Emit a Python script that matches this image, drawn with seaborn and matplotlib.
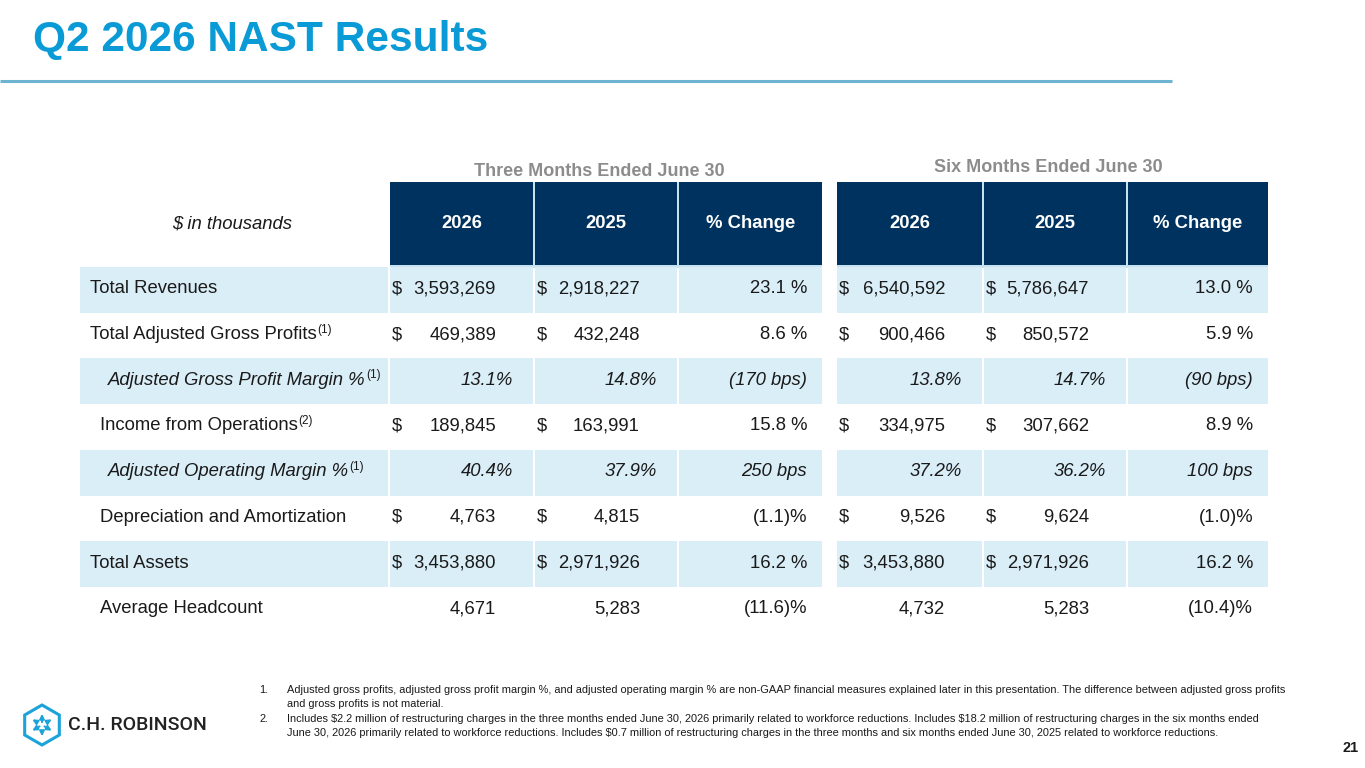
import numpy as np
import seaborn as sns
import matplotlib.pyplot as plt
from matplotlib.patches import RegularPolygon

# Table content
row_labels = ["Total Revenues", "Total Adjusted Gross Profits", "Adjusted Gross Profit Margin %",
              "Income from Operations", "Adjusted Operating Margin %", "Depreciation and Amortization",
              "Total Assets", "Average Headcount"]
row_notes = ["", "(1)", "(1)", "(2)", "(1)", "", "", ""]
row_indent = [0, 0, 2, 1, 2, 1, 0, 1]
row_italic = [False, False, True, False, True, False, False, False]
row_dollar = [True, True, False, True, False, True, True, False]

years = ["2026", "2025", "% Change"]
three_2026 = ["3,593,269", "469,389", "13.1%", "189,845", "40.4%", "4,763", "3,453,880", "4,671"]
three_2025 = ["2,918,227", "432,248", "14.8%", "163,991", "37.9%", "4,815", "2,971,926", "5,283"]
three_chg = ["23.1 %", "8.6 %", "(170 bps)", "15.8 %", "250 bps", "(1.1)%", "16.2 %", "(11.6)%"]
six_2026 = ["6,540,592", "900,466", "13.8%", "334,975", "37.2%", "9,526", "3,453,880", "4,732"]
six_2025 = ["5,786,647", "850,572", "14.7%", "307,662", "36.2%", "9,624", "2,971,926", "5,283"]
six_chg = ["13.0 %", "5.9 %", "(90 bps)", "8.9 %", "100 bps", "(1.0)%", "16.2 %", "(10.4)%"]

footnotes = [
    ("1.", "Adjusted gross profits, adjusted gross profit margin %, and adjusted operating margin % are non-GAAP "
           "financial measures explained later in this presentation. The difference between adjusted gross profits\n"
           "and gross profits is not material."),
    ("2.", "Includes $2.2 million of restructuring charges in the three months ended June 30, 2026 primarily related "
           "to workforce reductions. Includes $18.2 million of restructuring charges in the six months ended\n"
           "June 30, 2026 primarily related to workforce reductions. Includes $0.7 million of restructuring charges "
           "in the three months and six months ended June 30, 2025 related to workforce reductions."),
]

NAVY = "#00325F"
LIGHT = "#DAEEF8"
SEP = "#C6E2F2"
TXT = "#1A1A1A"
TITLE = "#0A9BD7"
LOGO = "#1BA3DA"

sns.set_theme(style="white")
plt.rcParams['font.family'] = ['Liberation Sans', 'DejaVu Sans']
plt.rcParams['text.parse_math'] = False

fig = plt.figure(figsize=(13.65, 7.68), dpi=100)
ax = fig.add_axes([0, 0, 1, 1])
ax.set_xlim(0, 1365)
ax.set_ylim(768, 0)
ax.axis('off')

# title and rule
ax.text(33, 40, "Q2 2026 NAST Results", fontsize=30.5, fontweight='bold', color=TITLE, va='center', ha='left')
ax.plot([0, 1172], [81, 81], color="#6CB4D0", lw=2.2, solid_capstyle='butt')

# column layout
label_col = (80, 388)
col_edges = [(390, 533), (535, 677), (679, 822), (837, 982), (984, 1126), (1128, 1268)]
col_data = [three_2026, three_2025, three_chg, six_2026, six_2025, six_chg]
head_top, head_bot = 182, 266
row_top, row_h = 267, 45.7
n_rows = len(row_labels)
fs = 13.3

# header backdrop (light separators) and navy header cells
for left, right in [(390, 822), (837, 1268)]:
    ax.bar(left, head_bot - head_top + 1.5, width=right - left, bottom=head_top, align='edge',
           color=SEP, linewidth=0)
for j, (left, right) in enumerate(col_edges):
    ax.bar(left, head_bot - head_top - 1, width=right - left, bottom=head_top, align='edge',
           color=NAVY, linewidth=0)
    ax.text((left + right) / 2, (head_top + head_bot) / 2, years[j % 3], color='white',
            fontsize=fs, fontweight='bold', ha='center', va='center')

ax.text((label_col[0] + label_col[1]) / 2 - 2, 224, "$ in thousands", fontsize=fs, style='italic',
        color=TXT, ha='center', va='center')
ax.text(599, 171, "Three Months Ended June 30", fontsize=13, fontweight='bold', color="#8C8C8C",
        ha='center', va='center')
ax.text(1048, 167, "Six Months Ended June 30", fontsize=13, fontweight='bold', color="#8C8C8C",
        ha='center', va='center')

# shaded body rows
for i in range(0, n_rows, 2):
    y0 = row_top + i * row_h
    for left, right in [label_col] + col_edges:
        ax.bar(left, row_h, width=right - left, bottom=y0, align='edge', color=LIGHT, linewidth=0)

fig.canvas.draw()
renderer = fig.canvas.get_renderer()

for i in range(n_rows):
    yc = row_top + (i + 0.5) * row_h - 1
    style = 'italic' if row_italic[i] else 'normal'
    x0 = 90 + [0, 10, 18][row_indent[i]]
    t = ax.text(x0, yc, row_labels[i], fontsize=fs, style=style, color=TXT, ha='left', va='center')
    if row_notes[i]:
        bb = t.get_window_extent(renderer=renderer)
        ax.text(bb.x1 + 0.5, yc - 5, row_notes[i], fontsize=8.5, color=TXT, ha='left', va='center')
    for j, (left, right) in enumerate(col_edges):
        val = col_data[j][i]
        if j % 3 == 2:
            ax.text(right - 15, yc, val, fontsize=fs, style=style, color=TXT, ha='right', va='center')
        elif row_italic[i]:
            ax.text(right - 20, yc, val, fontsize=fs, style='italic', color=TXT, ha='right', va='center')
        else:
            if row_dollar[i]:
                ax.text(left + 2, yc, "$", fontsize=fs, color=TXT, ha='left', va='center')
            ax.text(right - 37, yc, val, fontsize=fs, color=TXT, ha='right', va='center')

# footnotes
for k, (num, body) in enumerate(footnotes):
    y = 685 + k * 29
    ax.text(259, y, num, fontsize=7.9, color=TXT, ha='left', va='top', linespacing=1.45)
    ax.text(287, y, body, fontsize=7.9, color=TXT, ha='left', va='top', linespacing=1.45)

ax.text(1359, 748, "21", fontsize=10.5, fontweight='bold', color=TXT, ha='right', va='center')

# logo: hexagon with outward arrows
cx, cy, r = 42, 725, 20
ax.add_patch(RegularPolygon((cx, cy), 6, radius=r, orientation=0, fill=False, edgecolor=LOGO, lw=2.2))
for ang in [90, 210, 330]:
    a = np.deg2rad(ang)
    ax.annotate("", xy=(cx + 14 * np.cos(a), cy - 14 * np.sin(a)), xytext=(cx, cy),
                arrowprops=dict(arrowstyle='-|>', color=LOGO, lw=1.4, mutation_scale=7))
for ang in [30, 150, 270]:
    a = np.deg2rad(ang)
    ax.annotate("", xy=(cx + 14 * np.cos(a), cy - 14 * np.sin(a)), xytext=(cx + 4 * np.cos(a), cy - 4 * np.sin(a)),
                arrowprops=dict(arrowstyle='-|>', color=LOGO, lw=1.4, mutation_scale=7))
ax.text(68, 725, "C.H. ROBINSON", fontsize=14, family='Roboto', fontweight='medium', color="#222222",
        ha='left', va='center')

fig.savefig("out.png", dpi=100)
